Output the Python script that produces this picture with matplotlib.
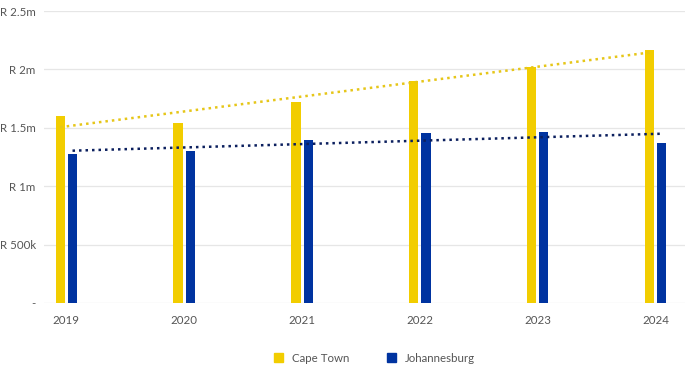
import numpy as np
import matplotlib
matplotlib.use("Agg")
import matplotlib.pyplot as plt
from matplotlib.patches import Patch

plt.rcParams['font.family'] = ['Lato', 'DejaVu Sans']

years = ['2019', '2020', '2021', '2022', '2023', '2024']
cape_town = [1.60, 1.54, 1.72, 1.90, 2.02, 2.17]      # R million
johannesburg = [1.276, 1.30, 1.395, 1.455, 1.467, 1.367]
y_ticks = [0, 0.5, 1.0, 1.5, 2.0, 2.5]
y_labels = ['-', 'R 500k', 'R 1m', 'R 1.5m', 'R 2m', 'R 2.5m']

yellow = '#F2CD00'
blue = '#0033A0'
txt = '#555555'

fig = plt.figure(figsize=(7, 3.68), dpi=100)
ax = fig.add_axes([44 / 700, 1 - 303 / 368, (685 - 44) / 700, (303 - 11) / 368])

x = np.arange(len(years))
w = 0.078
ax.bar(x - 0.052, cape_town, width=w, color=yellow, zorder=3)
ax.bar(x + 0.052, johannesburg, width=w, color=blue, zorder=3)

# linear trend lines
for vals, off, col in [(cape_town, -0.052, '#E6C619'), (johannesburg, 0.052, '#0B1F5E')]:
    k, b = np.polyfit(x, vals, 1)
    xs = np.array([x[0] + off, x[-1] + off])
    ax.plot(xs, k * (xs - off) + b, linestyle=(0, (1, 1.6)), color=col, linewidth=1.8, zorder=4)

ax.set_xlim(-0.19, 5.25)
ax.set_ylim(0, 2.5)
ax.set_yticks(y_ticks)
ax.set_yticklabels(y_labels)
ax.set_xticks(x)
ax.set_xticklabels(years)
ax.tick_params(axis='both', length=0, labelsize=8.3, colors=txt)
ax.tick_params(axis='x', pad=9)
ax.tick_params(axis='y', pad=6)
ax.grid(axis='y', color='#e6e6e6', linewidth=0.9, zorder=0)
for s in ax.spines.values():
    s.set_visible(False)

handles = [Patch(color=yellow, label='Cape Town'), Patch(color=blue, label='Johannesburg')]
fig.legend(handles=handles, loc='center', bbox_to_anchor=(0.535, 1 - 358 / 368), ncol=2,
           frameon=False, fontsize=8.3, labelcolor=txt, handlelength=0.8, handleheight=0.8,
           columnspacing=3.2, handletextpad=0.8)

plt.savefig('out.png', dpi=100)
